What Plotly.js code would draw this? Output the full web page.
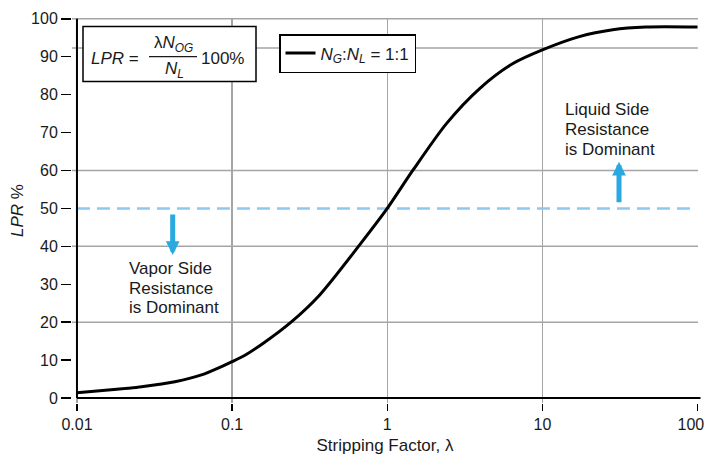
<!DOCTYPE html>
<html>
<head>
<meta charset="utf-8">
<script src="https://cdn.plot.ly/plotly-3.0.1.min.js"></script>
<style>html,body{margin:0;padding:0;background:#fff;}#chart{width:705px;height:456px;}</style>
</head>
<body>
<div id="chart"></div>
<script>
// Data
const strippingFactor = [0.01, 0.0159, 0.0261, 0.0428, 0.0635, 0.0855, 0.1, 0.121, 0.158, 0.241, 0.367, 0.664, 1.0, 1.46, 2.4, 3.94, 6.46, 10, 17.3, 28.4, 46.5, 100];
const lprPercent      = [1.4, 2.1, 3.0, 4.3, 6.1, 8.3, 9.6, 11.3, 14.4, 20.1, 27.2, 40.4, 50, 60, 72.3, 81.6, 88.2, 91.8, 95.3, 97.1, 97.8, 97.8];
const refLineX = [0.01, 95];
const refLineY = [50, 50];
const xTickVals = [0.01, 0.1, 1, 10, 100];
const xTickText = ['0.01', '0.1', '1', '10', '100\u00a0\u00a0\u00a0'];
const yTickVals = [0, 10, 20, 30, 40, 50, 60, 70, 80, 90, 100];
const yGridVals = [20, 40, 60, 92.3, 100];

const M = {l: 72, r: 7, t: 18, b: 53};
const W = 705, H = 456;
const pw = W - M.l - M.r, ph = H - M.t - M.b;
const px = v => (v - M.l) / pw;
const py = v => (H - M.b - v) / ph;
const XR = [-2.032, 2.003];
const YR = [-1.3, 100.2];
const xPaper = x => (Math.log10(x) - XR[0]) / (XR[1] - XR[0]);
const yPaper = y => (y - YR[0]) / (YR[1] - YR[0]);

const FONT = 'Liberation Sans, Arial, sans-serif';
const ink = '#1a1a1a';
const blue = '#2aa8e0';

const traces = [
  {x: refLineX, y: refLineY, type: 'scatter', mode: 'lines',
   line: {color: '#8ec8ef', width: 2.5, dash: '13px,7px'}, showlegend: false, hoverinfo: 'skip'},
  {x: strippingFactor, y: lprPercent, type: 'scatter', mode: 'lines',
   name: '<i>N</i><sub><i>G</i></sub>:<i>N</i><sub><i>L</i></sub> = 1:1',
   line: {color: '#000', width: 3, shape: 'spline', smoothing: 0.8}}
];

const ann = (x, y, text, opts) => Object.assign({xref: 'paper', yref: 'paper', x: x, y: y, text: text,
  xanchor: 'center', yanchor: 'middle',
  showarrow: false, font: {family: FONT, size: 17, color: ink}}, opts || {});

const annotations = [
  ann(px(114.5), py(58), '<i>LPR</i> ='),
  ann(px(173), py(44), 'λ<i>N</i><sub><i>OG</i></sub>'),
  ann(px(174), py(70), '<i>N</i><sub><i>L</i></sub>'),
  ann(px(222), py(58), '100%'),
  ann(px(126.7), py(268), 'Vapor Side', {xanchor: 'left'}),
  ann(px(126.7), py(288), 'Resistance', {xanchor: 'left'}),
  ann(px(126.7), py(307.5), 'is Dominant', {xanchor: 'left'}),
  ann(px(563), py(109.5), 'Liquid Side', {xanchor: 'left'}),
  ann(px(563), py(129.5), 'Resistance', {xanchor: 'left'}),
  ann(px(563), py(149), 'is Dominant', {xanchor: 'left'}),
  {xref: 'paper', yref: 'paper', x: px(172.7), y: py(255), ax: 0, ay: -42, text: '', showarrow: true,
   arrowhead: 2, arrowsize: 0.55, arrowwidth: 5, arrowcolor: blue, standoff: 0},
  {xref: 'paper', yref: 'paper', x: px(619), y: py(161.7), ax: 0, ay: 42, text: '', showarrow: true,
   arrowhead: 2, arrowsize: 0.55, arrowwidth: 5, arrowcolor: blue, standoff: 0}
];

const shapes = [];
// horizontal grid lines (uneven, as in the reference)
yGridVals.forEach(v => shapes.push({type: 'line', xref: 'paper', yref: 'y', x0: 0, x1: 1, y0: v, y1: v,
  line: {color: '#a5a5a5', width: 1.5}, layer: 'below'}));
shapes.push(
  // formula box
  {type: 'rect', xref: 'paper', yref: 'paper', x0: px(83), x1: px(256), y0: py(81.5), y1: py(26.5),
   line: {color: '#000', width: 1.5}, fillcolor: '#fff', layer: 'above'},
  // fraction bar
  {type: 'line', xref: 'paper', yref: 'paper', x0: px(149), x1: px(197), y0: py(56.7), y1: py(56.7),
   line: {color: ink, width: 1.3}, layer: 'above'},
  // axis lines (left at x=0.01, bottom at y=0)
  {type: 'line', xref: 'paper', yref: 'paper', x0: xPaper(0.01), x1: xPaper(0.01), y0: yPaper(0), y1: yPaper(100),
   line: {color: '#000', width: 2}},
  {type: 'line', xref: 'paper', yref: 'paper', x0: xPaper(0.01), x1: 1.004, y0: yPaper(0), y1: yPaper(0),
   line: {color: '#000', width: 2}}
);

const layout = {
  width: W, height: H, margin: M,
  paper_bgcolor: '#fff', plot_bgcolor: '#fff',
  font: {family: FONT, size: 16, color: ink},
  showlegend: true,
  legend: {x: px(279), y: py(34), xanchor: 'left', yanchor: 'top', bgcolor: '#fff',
           bordercolor: '#000', borderwidth: 1.5, font: {family: FONT, size: 17, color: ink},
           itemwidth: 30, tracegroupgap: 0},
  xaxis: {type: 'log', range: XR, tickvals: xTickVals, ticktext: xTickText,
          ticks: 'outside', ticklen: 7, tickwidth: 1.5, tickcolor: '#000', ticklabeloverflow: 'allow',
          showgrid: true, gridcolor: '#a5a5a5', gridwidth: 1.5, showline: false, zeroline: false,
          tickfont: {family: FONT, size: 16, color: ink},
          title: {text: 'Stripping Factor, λ', font: {family: FONT, size: 17, color: ink}, standoff: 6}},
  yaxis: {range: YR, tickvals: yTickVals, ticks: 'outside', ticklen: 10, tickwidth: 1.5, tickcolor: '#000',
          showgrid: false, zeroline: false, showline: false,
          tickfont: {family: FONT, size: 16, color: ink},
          title: {text: '<i>LPR</i> %', font: {family: FONT, size: 17, color: ink}, standoff: 3}},
  annotations: annotations,
  shapes: shapes
};

Plotly.newPlot('chart', traces, layout, {staticPlot: true, displayModeBar: false});
</script>
</body>
</html>
